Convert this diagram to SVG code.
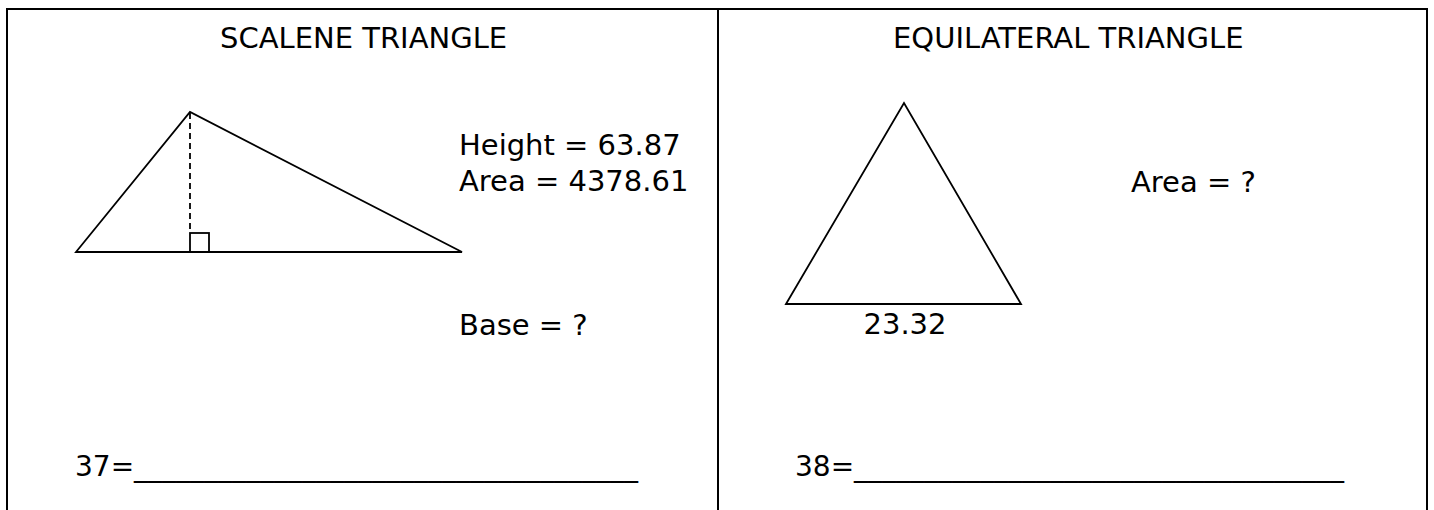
<svg xmlns="http://www.w3.org/2000/svg" width="1434" height="510" viewBox="0 0 1434 510">
  <style>
    .t { font-family: "DejaVu Sans", Verdana, sans-serif; font-size: 29px; fill: #000; }
    .u { font-family: "DejaVu Sans", Verdana, sans-serif; font-size: 28px; fill: #000; }
    .frame { stroke: #000; stroke-width: 2; fill: none; }
    .shape { stroke: #000; stroke-width: 1.8; fill: none; stroke-linejoin: miter; }
    .dash { stroke: #000; stroke-width: 1.8; stroke-dasharray: 6 4; fill: none; }
  </style>
  <rect width="1434" height="510" fill="#fff"/>
  <g id="frame">
    <path class="frame" d="M7,510 V9 H1427 V510 M718,9 V510"/>
  </g>
  <g id="scalene">
    <text class="t" x="220" y="48">SCALENE TRIANGLE</text>
    <polygon class="shape" points="76,252 190,112 462,252"/>
    <line class="dash" x1="190" y1="113" x2="190" y2="233"/>
    <rect class="shape" x="190" y="233" width="19" height="19"/>
    <text class="t" x="459" y="155">Height = 63.87</text>
    <text class="t" x="459" y="191">Area = 4378.61</text>
    <text class="t" x="459" y="335">Base = ?</text>
    <text class="u" x="75" y="476">37=____________________________________</text>
  </g>
  <g id="equilateral">
    <text class="t" x="893" y="48">EQUILATERAL TRIANGLE</text>
    <polygon class="shape" points="786,304 904,103 1021,304"/>
    <text class="t" x="905" y="334" text-anchor="middle">23.32</text>
    <text class="t" x="1131" y="192">Area = ?</text>
    <text class="u" x="795" y="476">38=___________________________________</text>
  </g>
</svg>
